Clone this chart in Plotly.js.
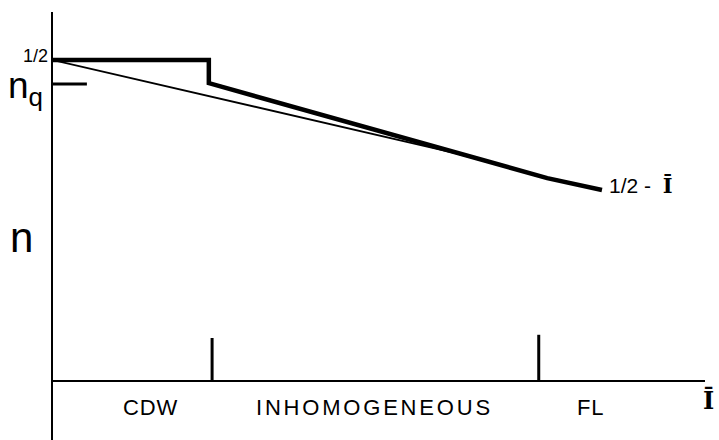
<!DOCTYPE html>
<html>
<head>
<meta charset="utf-8">
<script src="https://cdn.plot.ly/plotly-3.0.1.min.js"></script>
<style>html,body{margin:0;padding:0;background:#fff;}</style>
</head>
<body>
<div id="chart" style="width:719px;height:440px;"></div>
<script>
// Schematic: density n versus disorder strength Ī
const stepX = [0, 0.239, 0.239, 0.617, 0.758, 0.842];
const stepN = [0.5, 0.5, 0.464, 0.355, 0.316, 0.2975];
const thinX = [0, 0.617, 0.758];
const thinN = [0.5, 0.355, 0.316];
const nqX = [0, 0.052];
const nqN = [0.4626, 0.4626];
const boundaryX = [0.244, 0.745];
const boundaryH = [0.067, 0.072];
const regionLabels = ['CDW', 'INHOMOGENEOUS', 'FL'];
const regionX = [0.149, 0.493, 0.825];

const traces = [
  {x: thinX, y: thinN, mode: 'lines', line: {color: '#000', width: 1.8}, hoverinfo: 'skip'},
  {x: stepX, y: stepN, mode: 'lines', line: {color: '#000', width: 4.5}, hoverinfo: 'skip'},
  {x: nqX, y: nqN, mode: 'lines', line: {color: '#000', width: 3}, hoverinfo: 'skip'}
];
boundaryX.forEach((bx, i) => {
  traces.push({x: [bx, bx], y: [0, boundaryH[i]], mode: 'lines', line: {color: '#000', width: 3}, hoverinfo: 'skip'});
});

const F = 'Liberation Sans, Arial, sans-serif';
const SERIF = 'DejaVu Serif, Liberation Serif, serif';
const annotations = regionLabels.map((t, i) => ({
  x: regionX[i], y: -0.0405, xref: 'paper', yref: 'y',
  text: '<span style="letter-spacing:' + (t.length > 5 ? 2.8 : 0.8) + 'px">' + t + '</span>',
  showarrow: false,
  font: {family: F, size: 22, color: '#000'}, xanchor: 'center', yanchor: 'middle'
}));
annotations.push(
  {x: 1.005, y: -0.031, xref: 'paper', yref: 'y', text: '<b>Ī</b>', showarrow: false,
   font: {family: SERIF, size: 24, color: '#000'}, xanchor: 'center', yanchor: 'middle'},
  {x: -0.004, y: 0.506, xref: 'paper', yref: 'y', text: '1/2', showarrow: false,
   font: {family: F, size: 18, color: '#000'}, xanchor: 'right', yanchor: 'middle'},
  {x: -0.012, y: 0.457, xref: 'paper', yref: 'y', text: 'n<sub>q</sub>', showarrow: false,
   font: {family: F, size: 37, color: '#000'}, xanchor: 'right', yanchor: 'middle'},
  {x: -0.049, y: 0.224, xref: 'paper', yref: 'y', text: 'n', showarrow: false,
   font: {family: F, size: 42, color: '#000'}, xanchor: 'center', yanchor: 'middle'},
  {x: 0.849, y: 0.305, xref: 'paper', yref: 'y', text: '1/2 -  <b>Ī</b>', showarrow: false,
   font: {family: F, size: 21, color: '#000'}, xanchor: 'left', yanchor: 'middle'}
);
// serif font only for the Ī glyph in the end label
annotations[annotations.length - 1].text = '1/2 -  <span style="font-family:DejaVu Serif, serif"><b>Ī</b></span>';

const layout = {
  width: 719, height: 440,
  margin: {l: 53, r: 14, t: 12, b: 0},
  paper_bgcolor: '#fff', plot_bgcolor: '#fff',
  showlegend: false,
  xaxis: {range: [0, 1], showgrid: false, zeroline: false, showticklabels: false, ticks: '', showline: false},
  yaxis: {range: [-0.0919, 0.5748], showgrid: false, showticklabels: false, ticks: '',
          showline: true, linecolor: '#000', linewidth: 2.5,
          zeroline: true, zerolinecolor: '#000', zerolinewidth: 2},
  annotations: annotations
};

Plotly.newPlot('chart', traces, layout, {displayModeBar: false, staticPlot: true});
</script>
</body>
</html>
